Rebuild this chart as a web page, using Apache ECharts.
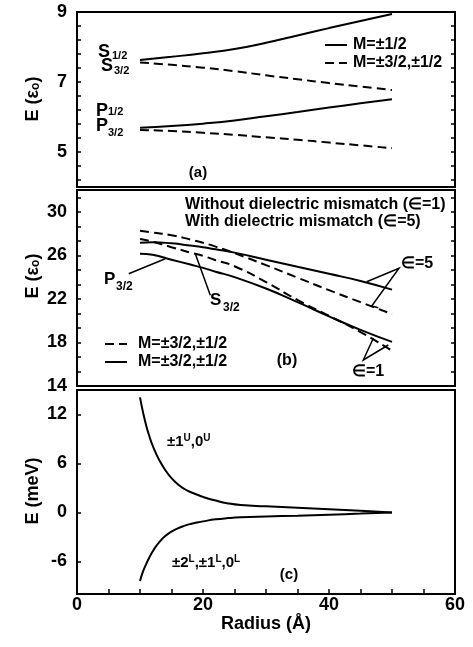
<!DOCTYPE html>
<html><head><meta charset="utf-8">
<script src="https://cdn.jsdelivr.net/npm/echarts@6/dist/echarts.min.js"></script>
<style>html,body{margin:0;padding:0;background:#fff}#c{width:473px;height:647px}</style>
</head><body><div id="c"></div>
<script>
// ---- Panel (a) ----
const radiusA = [10, 15, 20, 25, 30, 35, 40, 45, 50];
const aS12 = [7.63, 7.72, 7.82, 7.94, 8.12, 8.33, 8.54, 8.74, 8.94];
const aS32 = [7.56, 7.49, 7.41, 7.31, 7.19, 7.08, 6.97, 6.87, 6.77];
const aP12 = [5.69, 5.74, 5.81, 5.90, 6.02, 6.14, 6.27, 6.39, 6.51];
const aP32 = [5.63, 5.60, 5.55, 5.49, 5.42, 5.35, 5.27, 5.19, 5.11];
const aTicks = [4.2, 4.6, 5, 5.4, 5.8, 6.2, 6.6, 7, 7.4, 7.8, 8.2, 8.6, 9];
const aLabels = [5, 7, 9];
// ---- Panel (b) ----
const radiusB = [10, 12, 15, 18, 20, 22, 25, 30, 35, 40, 45, 50];
const bDash5 = [28.25, 28.1, 27.85, 27.45, 27.15, 26.8, 26.2, 25.1, 23.95, 22.8, 21.7, 20.6];
const bSolid5 = [27.15, 27.2, 27.1, 26.9, 26.75, 26.55, 26.25, 25.6, 24.95, 24.3, 23.65, 22.85];
const bDash1 = [27.5, 27.25, 26.75, 26.25, 25.95, 25.55, 25.0, 23.55, 21.9, 20.45, 18.95, 17.25];
const bSolid1 = [26.15, 26.05, 25.6, 25.15, 24.85, 24.5, 24.0, 22.95, 21.7, 20.4, 19.15, 18.05];
const bTicks = [15.333, 16.667, 18, 19.333, 20.667, 22, 23.333, 24.667, 26, 27.333, 28.667, 30, 31.333];
const bLabels = [14, 18, 22, 26, 30];
// ---- Panel (c) ----
const radiusC = [10, 10.5, 11, 11.5, 12, 12.5, 13, 14, 15, 16, 17, 18, 19, 20, 22, 24, 26, 30, 35, 40, 45, 50];
const cUpper = [14.1, 12.2, 10.6, 9.3, 8.2, 7.3, 6.5, 5.2, 4.2, 3.45, 2.9, 2.5, 2.2, 1.9, 1.45, 1.1, 0.9, 0.75, 0.58, 0.4, 0.2, 0];
const cLower = [-8.4, -7.2, -6.3, -5.5, -4.8, -4.2, -3.7, -2.9, -2.35, -1.95, -1.65, -1.42, -1.25, -1.1, -0.85, -0.7, -0.6, -0.5, -0.4, -0.28, -0.15, 0];
const cTicks = [-6, 0, 6, 12];
const xLabels = [0, 20, 40, 60];

const FONT = 'Liberation Sans, Arial, sans-serif';
const zip = (xs, ys) => xs.map((x, i) => [x, ys[i]]);
const DASH = [9, 5];

function line(name, xs, ys, gi, yi, dashed) {
  return {
    type: 'line', name, data: zip(xs, ys), xAxisIndex: gi, yAxisIndex: yi,
    showSymbol: false, symbol: 'none', smooth: 0.5,
    lineStyle: { color: '#000', width: 2, type: dashed ? DASH : 'solid' },
    itemStyle: { color: '#000' }, silent: true, animation: false, z: 3
  };
}

const grids = [
  { left: 77, top: 12, width: 378, height: 175 },
  { left: 77, top: 190, width: 378, height: 196 },
  { left: 77, top: 390, width: 378, height: 204 }
].map(g => Object.assign(g, { show: true, borderColor: '#000', borderWidth: 2, backgroundColor: 'transparent' }));

const tickStyle = { lineStyle: { color: '#000', width: 1.5 } };
const lblStyle = { color: '#000', fontFamily: FONT, fontWeight: 'bold', fontSize: 18 };

function xAxis(gi, show) {
  return {
    type: 'value', gridIndex: gi, min: 0, max: 60, interval: 5, position: 'bottom',
    axisLine: { show: false, onZero: false }, splitLine: { show: false },
    axisTick: Object.assign({ show: show, inside: true, length: 5 }, tickStyle),
    axisLabel: Object.assign({ show: show, margin: 2, formatter: v => (xLabels.indexOf(v) >= 0 ? String(v) : '') }, lblStyle)
  };
}
function yAxis(gi, min, max, ticks, labels, pos) {
  return {
    type: 'value', gridIndex: gi, min, max, position: pos,
    axisLine: { show: false, onZero: false }, splitLine: { show: false },
    axisTick: Object.assign({ show: true, inside: true, length: 4, customValues: ticks }, tickStyle),
    axisLabel: Object.assign({ show: pos === 'left', margin: 10, customValues: labels }, lblStyle)
  };
}

const legendText = { color: '#000', fontFamily: FONT, fontWeight: 'bold', fontSize: 16 };
const option = {
  backgroundColor: '#fff',
  animation: false,
  grid: grids,
  xAxis: [xAxis(0, false), xAxis(1, false), xAxis(2, true)],
  yAxis: [
    yAxis(0, 4, 9, aTicks, aLabels, 'left'),
    yAxis(0, 4, 9, aTicks, aLabels, 'right'),
    yAxis(1, 14, 32, bTicks, bLabels, 'left'),
    yAxis(1, 14, 32, bTicks, bLabels, 'right'),
    yAxis(2, -10, 15, cTicks, cTicks, 'left')
  ],
  legend: [
    {
      data: ['M=±1/2', 'M=±3/2,±1/2'], left: 319, top: 32, orient: 'vertical',
      itemWidth: 22, itemHeight: 14, itemGap: 2, selectedMode: false,
      itemStyle: { opacity: 0 }, textStyle: Object.assign({ padding: [0, 0, 0, 1] }, legendText)
    },
    {
      data: ['M=±3/2,±1/2 ', 'M=±3/2,±1/2  '], left: 99, top: 331, orient: 'vertical',
      itemWidth: 22, itemHeight: 14, itemGap: 2, selectedMode: false,
      itemStyle: { opacity: 0 }, textStyle: Object.assign({ padding: [0, 0, 0, 6] }, legendText)
    }
  ],
  series: [
    line('M=±1/2', radiusA, aS12, 0, 0, false),
    line('M=±3/2,±1/2', radiusA, aS32, 0, 0, true),
    line('M=±1/2', radiusA, aP12, 0, 0, false),
    line('M=±3/2,±1/2', radiusA, aP32, 0, 0, true),
    line('M=±3/2,±1/2 ', radiusB, bDash5, 1, 2, true),
    line('M=±3/2,±1/2  ', radiusB, bSolid5, 1, 2, false),
    line('M=±3/2,±1/2 ', radiusB, bDash1, 1, 2, true),
    line('M=±3/2,±1/2  ', radiusB, bSolid1, 1, 2, false),
    line('upper', radiusC, cUpper, 2, 4, false),
    line('lower', radiusC, cLower, 2, 4, false)
  ]
};

function txt(x, y, text, size, align, extra) {
  return Object.assign({
    type: 'text', x, y, z: 10, silent: true,
    style: { text, fill: '#000', font: 'bold ' + size + 'px ' + FONT, textAlign: align || 'left', textVerticalAlign: 'middle' }
  }, extra || {});
}
function seg(pts) {
  return { type: 'polyline', z: 10, silent: true, shape: { points: pts }, style: { stroke: '#000', lineWidth: 1.5, fill: null } };
}
const richName = {
  a: { fontFamily: FONT, fontWeight: 'bold', fontSize: 18, fill: '#000', color: '#000' },
  s: { fontFamily: FONT, fontWeight: 'bold', fontSize: 12, fill: '#000', color: '#000', verticalAlign: 'bottom' }
};
function yName(x, y, text) {
  return {
    type: 'text', x, y, rotation: Math.PI / 2, z: 10, silent: true,
    style: { text, rich: richName, textAlign: 'center', textVerticalAlign: 'middle', fill: '#000', font: 'bold 18px ' + FONT }
  };
}
const richSup = {
  n: { fontFamily: FONT, fontWeight: 'bold', fontSize: 15, color: '#000', fill: '#000', lineHeight: 18 },
  u: { fontFamily: FONT, fontWeight: 'bold', fontSize: 10, color: '#000', fill: '#000', verticalAlign: 'top', lineHeight: 18 }
};

option.graphic = [
  // panel (a) labels
  txt(98, 52, 'S', 18), txt(112, 56, '1/2', 11),
  txt(101, 66, 'S', 18), txt(114, 71, '3/2', 11),
  txt(96, 111, 'P', 18), txt(108, 112, '1/2', 11),
  txt(96, 126, 'P', 18), txt(108, 133, '3/2', 11),
  txt(198, 173, '(a)', 15, 'center'),
  // panel (b) labels
  txt(185, 205, 'Without dielectric mismatch (∈=1)', 16),
  txt(185, 222, 'With dielectric mismatch (∈=5)', 16),
  txt(104, 279, 'P', 17), txt(116, 287, '3/2', 12),
  txt(210, 300, 'S', 17), txt(223, 308, '3/2', 12),
  txt(401, 264, '∈=5', 16),
  txt(352, 372, '∈=1', 16),
  txt(287, 361, '(b)', 16, 'center'),
  seg([[128.7, 273.7], [165.3, 258.7]]),
  seg([[210.3, 295.3], [195.3, 253.7]]),
  seg([[366.7, 281.7], [399, 268.3], [371.7, 306], [378.3, 307.7]]),
  seg([[373.3, 338.3], [363.3, 360], [388.3, 345]]),
  // panel (c) labels
  { type: 'text', x: 167, y: 442, z: 10, silent: true,
    style: { text: '{n|±1}{u|U}{n|,0}{u|U}', rich: richSup, textVerticalAlign: 'middle', fill: '#000' } },
  { type: 'text', x: 172, y: 563, z: 10, silent: true,
    style: { text: '{n|±2}{u|L}{n|,±1}{u|L}{n|,0}{u|L}', rich: richSup, textVerticalAlign: 'middle', fill: '#000' } },
  txt(289, 575, '(c)', 15, 'center'),
  // axis names
  yName(33, 99, '{a|E (ε}{s|o}{a|)}'),
  yName(33, 276, '{a|E (ε}{s|o}{a|)}'),
  yName(33, 491, '{a|E (meV)}'),
  txt(266, 624, 'Radius (Å)', 18, 'center')
];

const chart = echarts.init(document.getElementById('c'), null, { renderer: 'canvas' });
chart.setOption(option);
</script></body></html>
